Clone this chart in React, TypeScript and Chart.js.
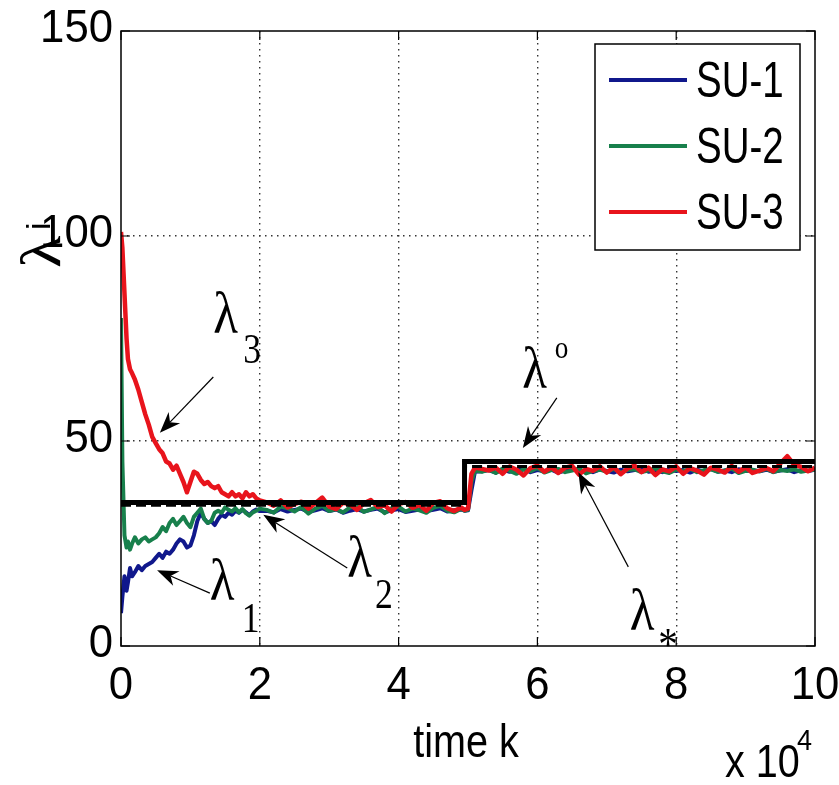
import React, { useEffect, useRef } from "react";
import { Chart, registerables } from "chart.js";

Chart.register(...registerables);

// time k (x 10^4)
const timeK = [
  0, 0.02, 0.05, 0.08, 0.1, 0.13, 0.16, 0.2, 0.25, 0.3, 0.35, 0.4, 0.45, 0.5, 0.55, 0.6, 0.65, 0.7, 0.75, 0.8, 0.85, 0.9, 0.95, 1, 1.05, 1.1, 1.15, 1.2, 1.25, 1.3, 1.35, 1.4, 1.45, 1.5, 1.55, 1.6, 1.65, 1.7, 1.75, 1.8, 1.85, 1.9, 1.95, 2,
  2.1, 2.2, 2.3, 2.4, 2.5, 2.6, 2.7, 2.8, 2.9, 3, 3.1, 3.2, 3.3, 3.4, 3.5, 3.6, 3.7, 3.8, 3.9, 4, 4.1, 4.2, 4.3, 4.4, 4.5, 4.6, 4.7, 4.8, 4.9,
  4.95, 5, 5.05, 5.1,
  5.2, 5.3, 5.4, 5.5, 5.6, 5.7, 5.8, 5.9, 6, 6.1, 6.2, 6.3, 6.4, 6.5, 6.6, 6.7, 6.8, 6.9, 7, 7.1, 7.2, 7.3, 7.4, 7.5, 7.6, 7.7, 7.8, 7.9, 8, 8.1, 8.2, 8.3, 8.4, 8.5, 8.6, 8.7, 8.8, 8.9, 9, 9.1, 9.2, 9.3, 9.4, 9.5, 9.6, 9.7, 9.8, 9.9, 10,
];

const su1 = [
  8, 12, 17, 13.5, 15.5, 19, 17, 18, 19.5, 18.5, 19.5, 20, 20.5, 21.5, 22.5, 21.5, 23, 22.5, 23.5, 25, 26, 25.5, 24, 24.5, 27, 30.5, 32.5, 31, 30, 30.5, 29.5, 31, 32, 31.5, 32.5, 32, 33, 32.5, 33.2, 32.6, 31.9, 32.8, 33.3, 32.9,
  33, 32.6, 33.4, 32.8, 33.2, 33.5, 32.7, 33.1, 33.6, 32.9, 33.3, 32.5, 33, 33.4, 32.8, 33.2, 33.5, 32.6, 33.1, 33.4, 32.7, 33, 33.3, 32.9, 33.2, 33.6, 32.8, 33.1, 33.3,
  33, 33.1, 38, 42.5,
  42.6, 42.9, 42.3, 43.1, 42.5, 42.8, 43.2, 42.4, 42.9, 42.6, 43, 42.3, 42.8, 43.2, 42.5, 42.9, 42.4, 43.1, 42.7, 42.3, 43, 42.6, 42.9, 43.2, 42.5, 42.8, 42.4, 43.1, 42.7, 42.9, 42.3, 43, 42.6, 43.2, 42.5, 42.8, 42.4, 43.1, 42.7, 42.9, 42.6, 43, 42.5, 42.8, 43.1, 42.4, 42.9, 42.7, 43,
];

const su2 = [
  80, 45, 27, 24, 25.5, 23.5, 25, 26.5, 25, 26, 26.5, 25.5, 26, 26.5, 27.5, 29, 28, 30, 31, 29.5, 30.5, 31.5, 30, 29, 31.5, 32.5, 33.5, 31, 30, 30.5, 32.5, 33, 32.5, 33.8, 33.2, 32.8, 33.6, 32.6, 33.4, 32.4, 31.8, 32.6, 33, 33.5,
  33.2, 32.5, 34, 33.6, 32.8, 33.9, 32.3, 33.5, 34.2, 32.9, 33.4, 32.6, 33.8, 34.1, 32.7, 33.3, 33.9, 32.4, 33.6, 34, 32.8, 33.5, 33.1, 32.5, 33.7, 34.2, 33, 32.6, 33.4,
  33, 33.2, 40, 42.8,
  42.5, 43, 42.2, 43.3, 42.7, 42, 43.1, 42.6, 43.4, 42.3, 42.9, 43.2, 42.4, 42.8, 43.3, 42.1, 42.7, 43, 42.5, 43.2, 42.3, 42.9, 43.1, 42.4, 42.8, 43.3, 42.6, 42.2, 43, 42.7, 43.2, 42.4, 42.9, 43.1, 42.5, 42.8, 43.3, 42.2, 42.7, 43, 42.6, 43.2, 42.4, 42.9, 42.7, 43.1, 42.5, 42.8, 43,
];

const su3 = [
  101, 97, 86, 75, 70, 67.5, 66.5, 65, 62.5, 59.5, 56.5, 54, 51, 49.5, 48, 47, 45, 44.5, 43, 44, 42, 40, 37.5, 40, 42.5, 42, 40.5, 39.5, 40, 39, 38.5, 39, 37.5, 37, 36.5, 37.5, 36.5, 37, 36, 37.5, 36.5, 37, 36, 35.5,
  35, 34.2, 35.5, 33.8, 34.6, 35.2, 33.5, 34.8, 36.2, 34, 33.4, 35, 34.5, 33.2, 34.8, 35.6, 33.9, 34.3, 32.8, 34.6, 35.1, 33.7, 34.4, 33, 34.9, 35.3, 33.6, 32.9, 33.8,
  33.2, 33.5, 42, 43.5,
  43.2, 42.8, 43.5, 42, 43.8, 43, 41.6, 43.4, 44, 42.5, 43.6, 42.2, 43.5, 43.9, 41.8, 43.2, 42.7, 43.8, 42.3, 43.6, 41.9, 43.3, 44, 42.4, 43.5, 41.7, 43.1, 42.6, 43.8, 42, 43.4, 42.8, 41.8, 43.5, 43, 42.3, 43.9, 42.5, 43.6, 42.2, 42.8, 43.4, 42.6, 44.5, 46.3, 44.2, 43.7, 42.6, 43.5,
];

// reference levels: lambda^o (optimal) and lambda_* (equilibrium), stepped at the change point
const stepTime = [0, 4.95, 10];
const lambdaOpt = [35, 45, 45];
const lambdaStar = [34.3, 43.8, 43.8];

const xTicks = [0, 2, 4, 6, 8, 10];
const yTicks = [0, 50, 100, 150];
const seriesLabels = ["SU-1", "SU-2", "SU-3"];
const seriesColors = ["#10188c", "#18804c", "#e8141c"];

const SANS = '"Liberation Sans", Arial, sans-serif';
const SERIF = '"Liberation Serif", "Times New Roman", serif';

type Note = {
  idx: string;
  at: [number, number];
  idxAt: [number, number];
  tail: [number, number];
  head: [number, number];
};

const notes: Note[] = [
  { idx: "3", at: [1.33, 76.3], idxAt: [1.76, 69.0], tail: [1.33, 65.6], head: [0.56, 52] },
  { idx: "1", at: [1.28, 11.2], idxAt: [1.74, 3.4], tail: [1.28, 12.9], head: [0.52, 18.5] },
  { idx: "2", at: [3.26, 16.8], idxAt: [3.66, 9.3], tail: [3.26, 19.0], head: [2.05, 32] },
  { idx: "o", at: [5.78, 63.0], idxAt: [6.25, 70.3], tail: [6.28, 60.5], head: [5.79, 48.3] },
  { idx: "*", at: [7.33, 3.9], idxAt: [7.74, -3.4], tail: [7.31, 19.3], head: [6.59, 42.4] },
];

function drawText(
  ctx: CanvasRenderingContext2D,
  s: string,
  x: number,
  y: number,
  font: string,
  sx: number,
  align: CanvasTextAlign = "left",
  base: CanvasTextBaseline = "alphabetic"
) {
  ctx.save();
  ctx.font = font;
  ctx.textAlign = align;
  ctx.textBaseline = base;
  ctx.fillStyle = "#000";
  ctx.translate(x, y);
  ctx.scale(sx, 1);
  ctx.fillText(s, 0, 0);
  ctx.restore();
}

function drawArrow(ctx: CanvasRenderingContext2D, x1: number, y1: number, x2: number, y2: number) {
  const ang = Math.atan2(y2 - y1, x2 - x1);
  const L = 21;
  const W = 8;
  const c = Math.cos(ang);
  const s = Math.sin(ang);
  const bx = x2 - c * L;
  const by = y2 - s * L;
  const mx = x2 - c * L * 0.7;
  const my = y2 - s * L * 0.7;
  const nx = -s;
  const ny = c;
  ctx.save();
  ctx.strokeStyle = "#000";
  ctx.fillStyle = "#000";
  ctx.lineWidth = 1.2;
  ctx.beginPath();
  ctx.moveTo(x1, y1);
  ctx.lineTo(mx, my);
  ctx.stroke();
  ctx.beginPath();
  ctx.moveTo(x2, y2);
  ctx.lineTo(bx + nx * W, by + ny * W);
  ctx.lineTo(mx, my);
  ctx.lineTo(bx - nx * W, by - ny * W);
  ctx.closePath();
  ctx.fill();
  ctx.restore();
}

const decorPlugin = {
  id: "decor",
  afterDraw(chart: any) {
    const ctx: CanvasRenderingContext2D = chart.ctx;
    const xs = chart.scales.x;
    const ys = chart.scales.y;
    const a = chart.chartArea;

    // axes box
    ctx.save();
    ctx.strokeStyle = "#000";
    ctx.lineWidth = 1.5;
    ctx.strokeRect(a.left, a.top, a.right - a.left, a.bottom - a.top);
    // inner ticks
    ctx.lineWidth = 1.2;
    ctx.beginPath();
    xTicks.forEach((v) => {
      const px = xs.getPixelForValue(v);
      ctx.moveTo(px, a.bottom);
      ctx.lineTo(px, a.bottom - 9);
      ctx.moveTo(px, a.top);
      ctx.lineTo(px, a.top + 9);
    });
    yTicks.forEach((v) => {
      const py = ys.getPixelForValue(v);
      ctx.moveTo(a.left, py);
      ctx.lineTo(a.left + 9, py);
      ctx.moveTo(a.right, py);
      ctx.lineTo(a.right - 9, py);
    });
    ctx.stroke();
    ctx.restore();

    // tick labels
    xTicks.forEach((v) => {
      drawText(ctx, String(v), xs.getPixelForValue(v), a.bottom + 40, `46px ${SANS}`, 0.95, "center", "middle");
    });
    yTicks.forEach((v) => {
      drawText(ctx, String(v), a.left - 8, ys.getPixelForValue(v) - 2, `46px ${SANS}`, 0.95, "right", "middle");
    });

    // axis titles
    drawText(ctx, "time k", (a.left + a.right) / 2 - 2, a.bottom + 111, `46px ${SANS}`, 0.86, "center");
    drawText(ctx, "x 10", a.right - 90, a.bottom + 131, `46px ${SANS}`, 0.86, "left");
    drawText(ctx, "4", a.right - 18, a.bottom + 104, `30px ${SANS}`, 0.9, "left");

    // y title (rotated lambda_i)
    ctx.save();
    ctx.translate(60, 268);
    ctx.rotate(-Math.PI / 2);
    ctx.fillStyle = "#000";
    ctx.font = `58px ${SERIF}`;
    ctx.save();
    ctx.scale(1.15, 1);
    ctx.fillText("λ", 0, 0);
    ctx.restore();
    ctx.font = `34px ${SANS}`;
    ctx.fillText("i", 38, -10);
    ctx.restore();

    // annotations
    notes.forEach((n) => {
      drawArrow(
        ctx,
        xs.getPixelForValue(n.tail[0]),
        ys.getPixelForValue(n.tail[1]),
        xs.getPixelForValue(n.head[0]),
        ys.getPixelForValue(n.head[1])
      );
      drawText(ctx, "λ", xs.getPixelForValue(n.at[0]), ys.getPixelForValue(n.at[1]), `60px ${SERIF}`, 0.85);
      const f = n.idx === "o" ? `32px ${SERIF}` : n.idx === "*" ? `46px ${SERIF}` : `42px ${SERIF}`;
      drawText(ctx, n.idx, xs.getPixelForValue(n.idxAt[0]), ys.getPixelForValue(n.idxAt[1]), f, 0.85);
    });

    // legend
    const lx = 595, ly = 44, lw = 205, lh = 206;
    ctx.save();
    ctx.fillStyle = "#fff";
    ctx.fillRect(lx, ly, lw, lh);
    ctx.strokeStyle = "#000";
    ctx.lineWidth = 1.5;
    ctx.strokeRect(lx, ly, lw, lh);
    chart.data.datasets
      .filter((d: any) => seriesLabels.includes(d.label))
      .forEach((d: any, i: number) => {
        const yy = 80 + i * 66;
        ctx.strokeStyle = d.borderColor;
        ctx.lineWidth = 4;
        ctx.beginPath();
        ctx.moveTo(609, yy);
        ctx.lineTo(687, yy);
        ctx.stroke();
        drawText(ctx, d.label, 696, yy + 3, `50px ${SANS}`, 0.77, "left", "middle");
      });
    ctx.restore();
  },
};

export default function App() {
  const ref = useRef<HTMLCanvasElement | null>(null);

  useEffect(() => {
    if (!ref.current) return;
    const n = Math.min(timeK.length, su1.length, su2.length, su3.length);
    const pts = (arr: number[]) => timeK.slice(0, n).map((t, i) => ({ x: t, y: arr[i] }));
    const stepPts = (arr: number[]) => stepTime.map((t, i) => ({ x: t, y: arr[i] }));
    const series = [su1, su2, su3];

    const datasets: any[] = series.map((s, i) => ({
      label: seriesLabels[i],
      data: pts(s),
      borderColor: seriesColors[i],
      backgroundColor: seriesColors[i],
      borderWidth: i === 2 ? 4.5 : 4,
      pointRadius: 0,
      tension: 0,
      borderJoinStyle: "round",
      order: 5 - i,
    }));
    datasets.push({
      label: "lambda*",
      data: stepPts(lambdaStar),
      stepped: "before",
      borderColor: "#000",
      borderWidth: 3,
      borderDash: [10, 5],
      pointRadius: 0,
      order: 1,
    });
    datasets.push({
      label: "lambda^o",
      data: stepPts(lambdaOpt),
      stepped: "before",
      borderColor: "#000",
      borderWidth: 5,
      pointRadius: 0,
      order: 0,
    });

    const gridColor = (edgeA: number, edgeB: number) => (c: any) =>
      c.tick && (c.tick.value === edgeA || c.tick.value === edgeB) ? "rgba(0,0,0,0)" : "#333";

    const chart = new Chart(ref.current, {
      type: "line",
      data: { datasets },
      plugins: [decorPlugin],
      options: {
        animation: false,
        responsive: false,
        maintainAspectRatio: false,
        layout: { padding: { top: 31, right: 24, left: 0, bottom: 0 } },
        plugins: { legend: { display: false }, tooltip: { enabled: false } },
        scales: {
          x: {
            type: "linear",
            min: 0,
            max: 10,
            afterBuildTicks: (s: any) => {
              s.ticks = xTicks.map((v) => ({ value: v }));
            },
            afterFit: (s: any) => {
              s.height = 139;
            },
            ticks: { display: false },
            grid: { color: gridColor(0, 10), lineWidth: 1.4, drawTicks: false },
            border: { display: false, dash: [1.5, 4.5] },
          },
          y: {
            type: "linear",
            min: 0,
            max: 150,
            afterBuildTicks: (s: any) => {
              s.ticks = yTicks.map((v) => ({ value: v }));
            },
            afterFit: (s: any) => {
              s.width = 121;
            },
            ticks: { display: false },
            grid: { color: gridColor(0, 150), lineWidth: 1.4, drawTicks: false },
            border: { display: false, dash: [1.5, 4.5] },
          },
        },
      } as any,
    });
    return () => chart.destroy();
  }, []);

  return (
    <div style={{ position: "absolute", left: 0, top: 0, width: 839, height: 785, background: "#fff" }}>
      <canvas ref={ref} width={839} height={785} style={{ display: "block" }} />
    </div>
  );
}
